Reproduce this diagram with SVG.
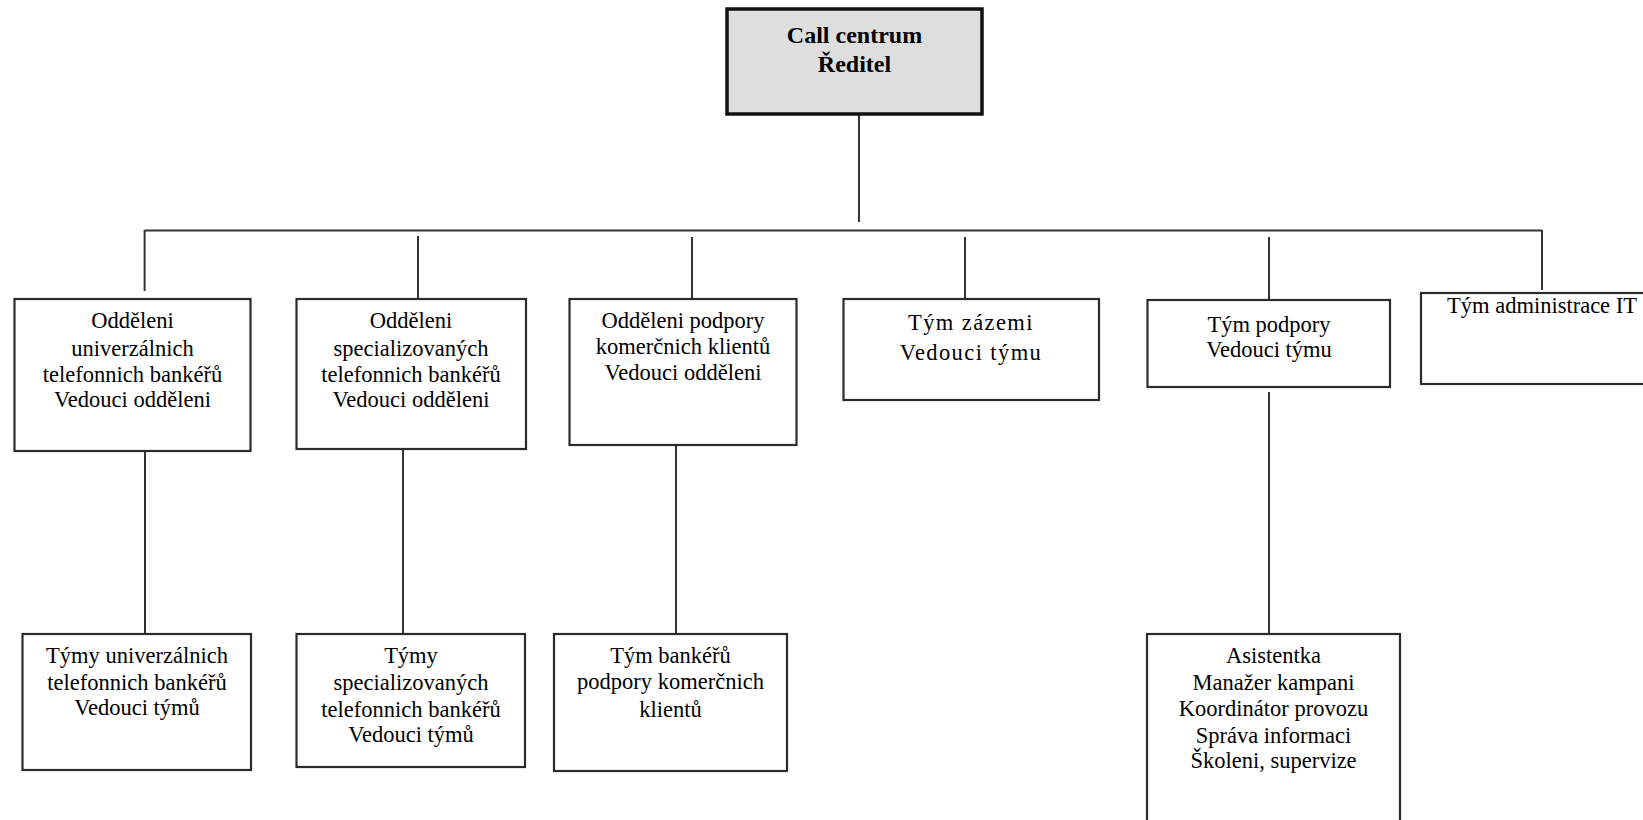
<svg xmlns="http://www.w3.org/2000/svg" width="1643" height="820" viewBox="0 0 1643 820">
  <style>
    .box { fill: #ffffff; stroke: #2b2b2b; stroke-width: 2.2; }
    .head { fill: #dedede; stroke: #111111; stroke-width: 3.5; }
    .link { stroke: #333333; stroke-width: 2; fill: none; }
    text { font-family: "Liberation Serif", "Times New Roman", serif; font-size: 22.5px; fill: #000000; text-anchor: middle; }
    .bold { font-weight: bold; font-size: 24px; }
    .wide { letter-spacing: 1.4px; }
  </style>

  <rect width="1643" height="820" fill="#ffffff"/>

  <!-- connectors -->
  <g id="connectors">
    <line class="link" x1="859" y1="114" x2="859" y2="222"/>
    <line class="link" x1="144.6" y1="230.5" x2="1542" y2="230.5"/>
    <line class="link" x1="144.6" y1="230" x2="144.6" y2="291"/>
    <line class="link" x1="418" y1="236" x2="418" y2="299"/>
    <line class="link" x1="692" y1="237" x2="692" y2="299"/>
    <line class="link" x1="965" y1="237" x2="965" y2="299"/>
    <line class="link" x1="1269" y1="237" x2="1269" y2="300"/>
    <line class="link" x1="1542" y1="230" x2="1542" y2="290"/>
    <line class="link" x1="145" y1="452" x2="145" y2="634"/>
    <line class="link" x1="403" y1="450" x2="403" y2="634"/>
    <line class="link" x1="676" y1="446" x2="676" y2="634"/>
    <line class="link" x1="1269" y1="392" x2="1269" y2="634"/>
  </g>

  <!-- director -->
  <g id="reditel">
    <rect class="head" x="727" y="9" width="255" height="105"/>
    <text class="bold" x="854.5" y="43">Call centrum</text>
    <text class="bold" x="854.5" y="72">Ředitel</text>
  </g>

  <!-- first level -->
  <g id="odd-univerzalni">
    <rect class="box" x="14.5" y="299" width="236" height="152"/>
    <text x="132.5" y="328">Odděleni</text>
    <text x="132.5" y="356">univerzálnich</text>
    <text x="132.5" y="382">telefonnich bankéřů</text>
    <text x="132.5" y="407">Vedouci odděleni</text>
  </g>

  <g id="odd-specializovani">
    <rect class="box" x="296.5" y="299" width="229.5" height="150"/>
    <text x="411" y="328">Odděleni</text>
    <text x="411" y="356">specializovaných</text>
    <text x="411" y="382">telefonnich bankéřů</text>
    <text x="411" y="407">Vedouci odděleni</text>
  </g>

  <g id="odd-komercni">
    <rect class="box" x="569.5" y="299" width="227" height="146"/>
    <text x="683" y="328">Odděleni podpory</text>
    <text x="683" y="354">komerčnich klientů</text>
    <text x="683" y="380">Vedouci odděleni</text>
  </g>

  <g id="tym-zazemi">
    <rect class="box" x="843.5" y="299" width="255.5" height="101"/>
    <text class="wide" x="971" y="330">Tým zázemi</text>
    <text class="wide" x="971" y="360">Vedouci týmu</text>
  </g>

  <g id="tym-podpory">
    <rect class="box" x="1147.5" y="300" width="242.5" height="87"/>
    <text x="1269" y="332">Tým podpory</text>
    <text x="1269" y="357">Vedouci týmu</text>
  </g>

  <g id="tym-it">
    <rect class="box" x="1421" y="293" width="244" height="91"/>
    <text x="1542" y="313">Tým administrace IT</text>
  </g>

  <!-- second level -->
  <g id="tymy-univerzalni">
    <rect class="box" x="22.5" y="634" width="228.5" height="136"/>
    <text x="137" y="663">Týmy univerzálnich</text>
    <text x="137" y="690">telefonnich bankéřů</text>
    <text x="137" y="715">Vedouci týmů</text>
  </g>

  <g id="tymy-specializovani">
    <rect class="box" x="296.5" y="634" width="228.5" height="133"/>
    <text x="411" y="663">Týmy</text>
    <text x="411" y="690">specializovaných</text>
    <text x="411" y="717">telefonnich bankéřů</text>
    <text x="411" y="742">Vedouci týmů</text>
  </g>

  <g id="tym-bankeru">
    <rect class="box" x="554" y="634" width="233" height="137"/>
    <text x="670.5" y="663">Tým bankéřů</text>
    <text x="670.5" y="689">podpory komerčnich</text>
    <text x="670.5" y="717">klientů</text>
  </g>

  <g id="podpora-role">
    <rect class="box" x="1147" y="634" width="253" height="200"/>
    <text x="1273.5" y="663">Asistentka</text>
    <text x="1273.5" y="690">Manažer kampani</text>
    <text x="1273.5" y="716">Koordinátor provozu</text>
    <text x="1273.5" y="743">Správa informaci</text>
    <text x="1273.5" y="768">Školeni, supervize</text>
  </g>
</svg>
